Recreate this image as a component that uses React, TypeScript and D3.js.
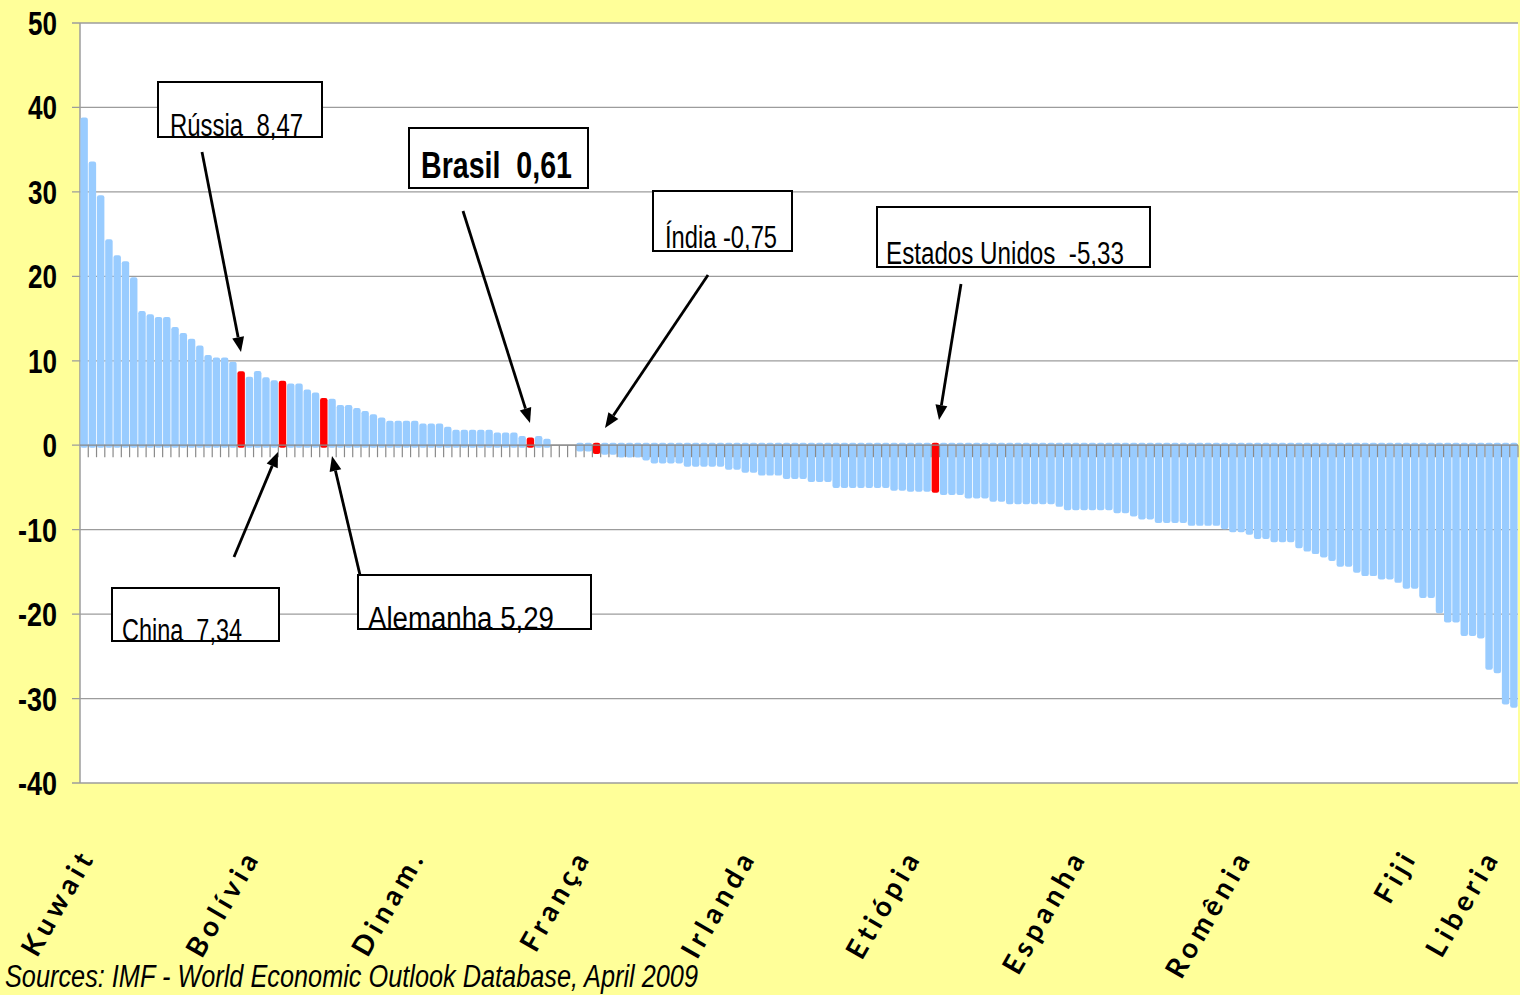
import { useMemo } from 'react';
import * as d3 from 'd3';

// Real GDP growth 2009 (%), countries sorted, IMF WEO April 2009
const values: (number | null)[] = [
  38.5, 33.3, 29.3, 24.1, 22.2, 21.5, 19.6, 15.6, 15.2, 14.9,
  14.9, 13.7, 13.0, 12.3, 11.5, 10.4, 10.1, 10.1, 9.6, 8.47,
  7.8, 8.5, 7.75, 7.4, 7.34, 7.0, 7.0, 6.3, 5.95, 5.29,
  5.2, 4.47, 4.47, 4.1, 3.76, 3.37, 3.0, 2.6, 2.6, 2.6,
  2.6, 2.28, 2.28, 2.28, 1.9, 1.54, 1.54, 1.54, 1.54, 1.54,
  1.2, 1.2, 1.2, 0.8, 0.61, 0.8, 0.48, null, null, null,
  -0.44, -0.44, -0.75, -0.83, -0.83, -1.15, -1.15, -1.15, -1.5, -1.86,
  -1.86, -1.86, -1.86, -2.25, -2.25, -2.25, -2.25, -2.25, -2.6, -2.6,
  -2.96, -2.96, -3.3, -3.3, -3.3, -3.7, -3.7, -3.7, -4.06, -4.06,
  -4.06, -4.77, -4.77, -4.77, -4.77, -4.77, -4.77, -4.77, -5.1, -5.1,
  -5.2, -5.2, -5.2, -5.33, -5.6, -5.6, -5.6, -6.0, -6.0, -6.0,
  -6.4, -6.4, -6.7, -6.7, -6.7, -6.7, -6.7, -6.7, -7.0, -7.4,
  -7.4, -7.4, -7.4, -7.4, -7.4, -7.75, -7.75, -8.15, -8.5, -8.5,
  -8.9, -8.9, -8.9, -8.9, -9.25, -9.25, -9.25, -9.25, -9.65, -10.0,
  -10.0, -10.3, -10.8, -10.8, -11.2, -11.2, -11.2, -11.9, -12.3, -12.6,
  -13.0, -13.4, -14.1, -14.1, -14.8, -15.2, -15.2, -15.6, -15.6, -16.0,
  -16.7, -16.7, -17.8, -17.8, -19.6, -20.7, -20.7, -22.3, -22.3, -22.6,
  -26.3, -26.7, -30.4, -30.8,
];

// category labels shown on the axis (index into values)
const axisLabels = [
  { i: 0, name: 'Kuwait' },
  { i: 20, name: 'Bolívia' },
  { i: 40, name: 'Dinam.' },
  { i: 60, name: 'França' },
  { i: 80, name: 'Irlanda' },
  { i: 100, name: 'Etiópia' },
  { i: 120, name: 'Espanha' },
  { i: 140, name: 'Romênia' },
  { i: 160, name: 'Fiji' },
  { i: 170, name: 'Liberia' },
];

// highlighted countries
const highlights = [
  { i: 19, label: 'Rússia  8,47' },
  { i: 24, label: 'China  7,34' },
  { i: 29, label: 'Alemanha 5,29' },
  { i: 54, label: 'Brasil  0,61' },
  { i: 62, label: 'Índia -0,75' },
  { i: 103, label: 'Estados Unidos  -5,33' },
];

const yTicks = [50, 40, 30, 20, 10, 0, -10, -20, -30, -40];
const source = 'Sources: IMF - World Economic Outlook Database, April 2009';

const W = 1520;
const H = 995;
const plot = { left: 80, right: 1518, top: 23, bottom: 783 };

const BG = '#FFFF99';
const BAR = '#99CCFF';
const RED = '#FF0000';
const GRID = '#9c9c9c';
const NARROW = '"Liberation Sans Narrow", "Arial Narrow", "Liberation Sans", Arial, sans-serif';

// annotation box layout (box, text, arrow)
const notes = [
  { box: [158, 82, 322, 137], tx: 170, ty: 136, tl: 133, fs: 31, bold: false, arrow: [202, 152, 241, 352] },
  { box: [112, 588, 279, 641], tx: 122, ty: 641, tl: 120, fs: 31, bold: false, arrow: [234, 557, 278, 452] },
  { box: [358, 575, 591, 629], tx: 368, ty: 629, tl: 186, fs: 31, bold: false, arrow: [360, 575, 332, 456] },
  { box: [409, 128, 588, 188], tx: 421, ty: 178, tl: 151, fs: 37, bold: true, arrow: [463, 211, 530, 423] },
  { box: [653, 191, 792, 251], tx: 665, ty: 248, tl: 112, fs: 31, bold: false, arrow: [708, 275, 605, 428] },
  { box: [877, 207, 1150, 267], tx: 886, ty: 264, tl: 238, fs: 31, bold: false, arrow: [961, 284, 939, 420] },
];

function Arrow({ a }: { a: number[] }) {
  const [x1, y1, x2, y2] = a;
  const ang = Math.atan2(y2 - y1, x2 - x1);
  const len = 15;
  const hw = 6;
  const bx = x2 - len * Math.cos(ang);
  const by = y2 - len * Math.sin(ang);
  const px = -Math.sin(ang) * hw;
  const py = Math.cos(ang) * hw;
  return (
    <g>
      <line x1={x1} y1={y1} x2={bx} y2={by} stroke="#000" strokeWidth={2.8} />
      <polygon points={`${x2},${y2} ${bx + px},${by + py} ${bx - px},${by - py}`} fill="#000" />
    </g>
  );
}

export default function App() {
  const idx = useMemo(() => values.map((_, i) => i), []);

  const x = d3.scaleBand<number>()
    .domain(idx)
    .range([plot.left, plot.right])
    .paddingInner(0);

  const y = d3.scaleLinear()
    .domain([-40, 50])
    .range([plot.bottom, plot.top]);

  const bw = x.bandwidth();
  const y0 = y(0);
  const hiSet = new Set(highlights.map(h => h.i));

  return (
    <svg width={W} height={H} style={{ position: 'absolute', left: 0, top: 0, display: 'block' }}>
      <rect x={0} y={0} width={W} height={H} fill={BG} />
      <rect x={plot.left} y={plot.top} width={plot.right - plot.left} height={plot.bottom - plot.top} fill="#fff" />

      {/* grid lines + y ticks */}
      {yTicks.map(t => (
        <g key={t}>
          <line x1={plot.left - 8} x2={plot.right} y1={y(t)} y2={y(t)} stroke={GRID} strokeWidth={1.3} />
          <text
            x={57}
            y={y(t) + 3}
            textAnchor="end"
            dominantBaseline="middle"
            fontFamily={NARROW}
            fontWeight="bold"
            fontSize={34}
            textLength={String(t).replace('-', '').length * 14.5 + (t < 0 ? 10 : 0)}
            lengthAdjust="spacingAndGlyphs"
            fill="#000"
          >
            {t}
          </text>
        </g>
      ))}
      <line x1={plot.left} x2={plot.left} y1={plot.top} y2={plot.bottom} stroke={GRID} strokeWidth={1.5} />

      {/* bars */}
      {values.map((v, i) => {
        if (v == null) return null;
        const top = Math.min(y(v), y0) - 2.5;
        const h = Math.abs(y(v) - y0) + 5;
        return (
          <rect
            key={i}
            x={x(i)! + 0.4}
            y={top}
            width={bw - 0.8}
            height={h}
            rx={2.2}
            fill={hiSet.has(i) ? RED : BAR}
          />
        );
      })}

      {/* category ticks */}
      {idx.map(i => (
        <line key={i} x1={x(i)! + bw} x2={x(i)! + bw} y1={y0} y2={y0 + 12} stroke="#8a8a8a" strokeWidth={1.2} />
      ))}
      <line x1={plot.left} x2={plot.right} y1={y0} y2={y0} stroke="#8a8a8a" strokeWidth={1.3} />

      {/* category labels */}
      {axisLabels.map(l => {
        const cx = x(l.i)! + bw / 2 + 12;
        const cy = 856;
        return (
          <text
            key={l.name}
            x={cx}
            y={cy}
            transform={`rotate(-60 ${cx} ${cy})`}
            textAnchor="end"
            fontFamily="Lato, 'Open Sans', sans-serif"
            fontWeight="bold"
            fontSize={28}
            letterSpacing={5}
            fill="#000"
          >
            {l.name}
          </text>
        );
      })}

      {/* annotations */}
      {notes.map((n, k) => {
        const [x1, y1, x2, y2] = n.box;
        return (
          <g key={k}>
            <Arrow a={n.arrow} />
            <rect x={x1} y={y1} width={x2 - x1} height={y2 - y1} fill="#fff" stroke="#000" strokeWidth={2} />
            <text
              x={n.tx}
              y={n.ty}
              fontFamily={NARROW}
              fontWeight={n.bold ? 'bold' : 'normal'}
              fontSize={n.fs}
              textLength={n.tl}
              lengthAdjust="spacingAndGlyphs"
              style={{ whiteSpace: 'pre' }}
              fill="#000"
            >
              {highlights[k].label}
            </text>
          </g>
        );
      })}

      <text
        x={5}
        y={987}
        fontFamily={NARROW}
        fontStyle="italic"
        fontSize={31}
        textLength={693}
        lengthAdjust="spacingAndGlyphs"
        fill="#000"
      >
        {source}
      </text>
    </svg>
  );
}
